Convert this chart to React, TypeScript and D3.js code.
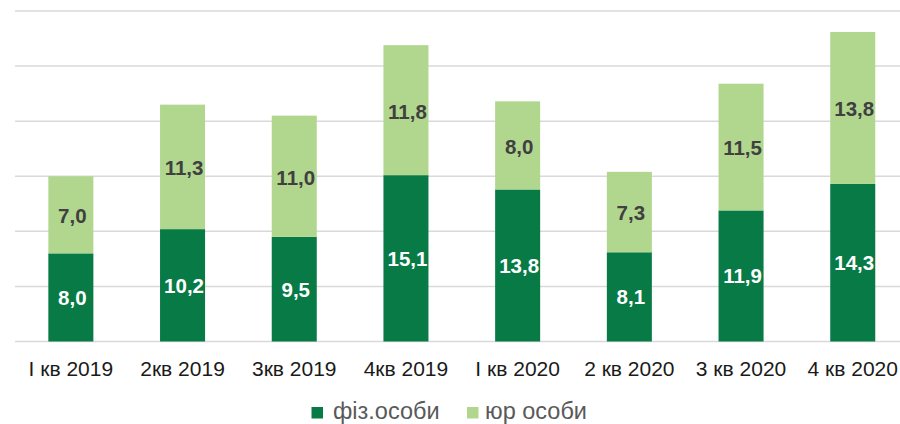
import React from "react";
import * as d3 from "d3";

const categories = ["І кв 2019", "2кв 2019", "3кв 2019", "4кв 2019", "І кв 2020", "2 кв 2020", "3 кв 2020", "4 кв 2020"];
const physValues = [8.0, 10.2, 9.5, 15.1, 13.8, 8.1, 11.9, 14.3];
const legalValues = [7.0, 11.3, 11.0, 11.8, 8.0, 7.3, 11.5, 13.8];
const seriesNames = ["фіз.особи", "юр особи"];
const gridTicks = [0, 5, 10, 15, 20, 25, 30];

const W = 900;
const H = 424;
const DARK = "#077A46";
const LIGHT = "#B1D78F";
const FONT = "'Liberation Sans', Arial, sans-serif";

export default function App() {
  const x = d3.scaleBand<string>().domain(categories).range([15, 908.6]).paddingInner(0.597).paddingOuter(0.2985);
  const y = d3.scaleLinear().domain([0, 30]).range([341.5, 11]);
  const fmt = (v: number) => v.toFixed(1).replace(".", ",");
  const bw = x.bandwidth();

  return (
    <svg width={W} height={H} style={{ position: "absolute", left: 0, top: 0, background: "#fff" }} fontFamily={FONT}>
      {gridTicks.map((t) => (
        <line key={t} x1={15} x2={900} y1={y(t)} y2={y(t)} stroke="#D9D9D9" strokeWidth={1.5} />
      ))}
      {categories.map((c, i) => {
        const x0 = x(c)!;
        const p = physValues[i];
        const l = legalValues[i];
        const yP = y(p);
        const yT = y(p + l);
        return (
          <g key={c}>
            <rect x={x0} y={yP} width={bw} height={y(0) - yP} fill={DARK} />
            <rect x={x0} y={yT} width={bw} height={yP - yT} fill={LIGHT} />
            <text x={x0 + bw / 2 + 1.5} y={(yP + y(0)) / 2} dy="0.36em" textAnchor="middle" fontSize={20.5} fontWeight="bold" fill="#FFFFFF">
              {fmt(p)}
            </text>
            <text x={x0 + bw / 2 + 1.5} y={(yT + yP) / 2 + 1} dy="0.36em" textAnchor="middle" fontSize={20.5} fontWeight="bold" fill="#404040">
              {fmt(l)}
            </text>
            <text x={x0 + bw / 2} y={376} textAnchor="middle" fontSize={21} fill="#1A1A1A">
              {c}
            </text>
          </g>
        );
      })}
      <g>
        <rect x={311.5} y={407} width={11.5} height={11.5} fill={DARK} />
        <text x={333} y={419} fontSize={23.5} fill="#595959">{seriesNames[0]}</text>
        <rect x={467} y={407} width={11.5} height={11.5} fill={LIGHT} />
        <text x={485} y={419} fontSize={23.5} fill="#595959">{seriesNames[1]}</text>
      </g>
    </svg>
  );
}
